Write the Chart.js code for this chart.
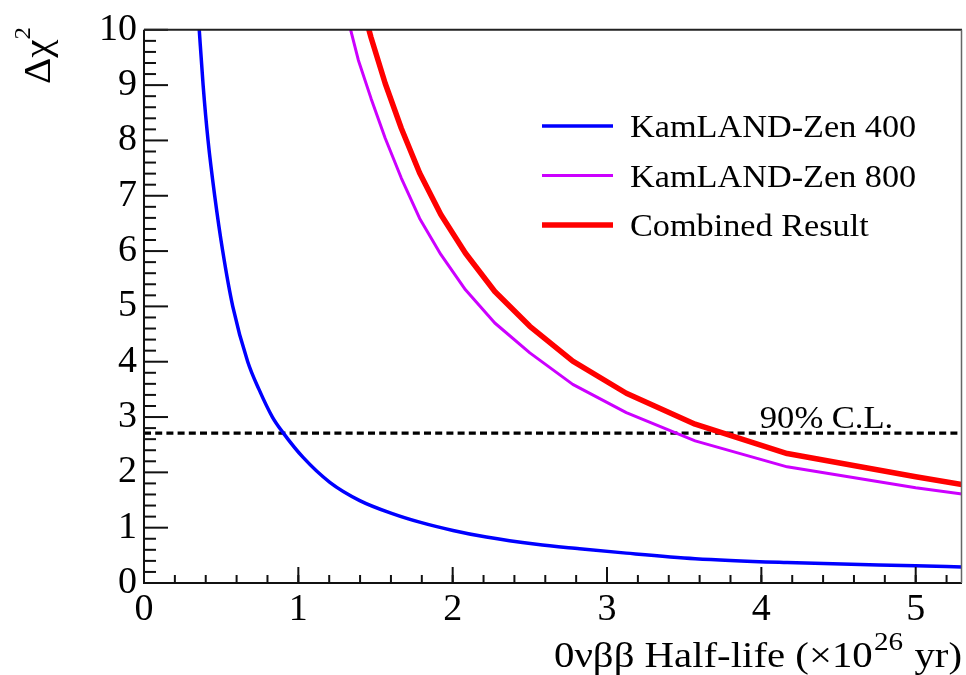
<!DOCTYPE html>
<html><head><meta charset="utf-8">
<script src="https://cdn.jsdelivr.net/npm/chart.js@4"></script>
<style>html,body{margin:0;padding:0;background:#fff;}canvas{display:block}</style>
</head><body>
<canvas id="c" width="966" height="675"></canvas>
<script>
// ---- data ----
const seriesLabels = ['KamLAND-Zen 400', 'KamLAND-Zen 800', 'Combined Result'];
const seriesColors = ['#0000ff', '#cc00ff', '#ff0000'];
const seriesWidths = [3.5, 3, 5.5];

const kz400X = [0.350, 0.358, 0.383, 0.415, 0.458, 0.510, 0.575, 0.672, 0.745, 0.832, 0.903, 1.031, 1.204, 1.398, 1.614, 1.786, 2.002, 2.218, 2.542, 2.822, 3.125, 3.571, 4.167, 5.0, 5.3];
const kz400Y = [10.33, 10.0, 9.0, 8.0, 7.0, 6.0, 5.0, 4.0, 3.5, 3.0, 2.71, 2.27, 1.82, 1.49, 1.25, 1.10, 0.95, 0.83, 0.70, 0.62, 0.54, 0.44, 0.37, 0.31, 0.29];

const kz800X = [1.316, 1.389, 1.471, 1.563, 1.667, 1.786, 1.923, 2.083, 2.273, 2.5, 2.778, 3.125, 3.571, 4.167, 5.0, 5.3];
const kz800Y = [10.25, 9.45, 8.76, 8.04, 7.32, 6.59, 5.94, 5.30, 4.70, 4.16, 3.59, 3.08, 2.57, 2.10, 1.72, 1.61];

const combX = [1.389, 1.471, 1.563, 1.667, 1.786, 1.923, 2.083, 2.273, 2.5, 2.778, 3.125, 3.571, 4.167, 5.0, 5.3];
const combY = [10.7, 9.86, 9.03, 8.22, 7.41, 6.66, 5.96, 5.27, 4.64, 4.01, 3.43, 2.87, 2.34, 1.92, 1.78];

const clLevel = 2.71;
const clLabel = '90% C.L.';
const clLabelX = 3.99;

const xRange = [0, 5.3];
const yRange = [0, 10];
const xTickLabels = [0, 1, 2, 3, 4, 5];
const yTickLabels = [0, 1, 2, 3, 4, 5, 6, 7, 8, 9, 10];
const minorDivisions = 5;

const xTitleMain = '0\u03bd\u03b2\u03b2 Half-life (\u00d710';
const xTitleSup = '26';
const xTitleEnd = ' yr)';
const yTitleMain = '\u0394\u03c7';
const yTitleSup = '2';

// ---- chart ----
const SERIF = "'Liberation Serif', 'Times New Roman', serif";
const pts = (xs, ys) => xs.map((x, i) => ({x: x, y: ys[i]}));

const mainSets = [[kz400X, kz400Y], [kz800X, kz800Y], [combX, combY]].map((s, i) => ({
  label: seriesLabels[i],
  data: pts(s[0], s[1]),
  borderColor: seriesColors[i],
  backgroundColor: seriesColors[i],
  borderWidth: seriesWidths[i],
  pointRadius: 0,
  tension: 0,
  cubicInterpolationMode: i === 0 ? 'monotone' : 'default',
  borderJoinStyle: 'round',
  fill: false,
  clip: 0
}));
mainSets.push({
  label: clLabel,
  data: [{x: xRange[0], y: clLevel}, {x: xRange[1], y: clLevel}],
  borderColor: '#000',
  borderWidth: 3.2,
  borderDash: [7, 4.2],
  pointRadius: 0,
  fill: false,
  clip: 0
});

function stretchText(ctx, text, x, y, sx) {
  ctx.save();
  ctx.translate(x, y);
  ctx.scale(sx, 1);
  ctx.fillText(text, 0, 0);
  ctx.restore();
}

const rootStyle = {
  id: 'rootStyle',
  afterDatasetsDraw(chart) {
    const ctx = chart.ctx, a = chart.chartArea;
    const xs = chart.scales.x, ys = chart.scales.y;
    ctx.save();
    ctx.strokeStyle = '#111';
    ctx.lineWidth = 2;
    // y ticks (inward)
    for (let i = 0; i < yTickLabels.length; i++) {
      const v = yTickLabels[i];
      const p = ys.getPixelForValue(v);
      ctx.beginPath(); ctx.moveTo(a.left, p); ctx.lineTo(a.left + 24, p); ctx.stroke();
      if (i < yTickLabels.length - 1) {
        const step = (yTickLabels[i + 1] - v) / minorDivisions;
        for (let k = 1; k < minorDivisions; k++) {
          const q = ys.getPixelForValue(v + k * step);
          ctx.beginPath(); ctx.moveTo(a.left, q); ctx.lineTo(a.left + 12, q); ctx.stroke();
        }
      }
    }
    // x ticks (inward)
    const xStep = (xTickLabels[1] - xTickLabels[0]) / minorDivisions;
    for (let i = 0; i < xTickLabels.length; i++) {
      const p = xs.getPixelForValue(xTickLabels[i]);
      ctx.beginPath(); ctx.moveTo(p, a.bottom); ctx.lineTo(p, a.bottom - 16); ctx.stroke();
    }
    for (let v = xRange[0] + xStep; v < xRange[1] - 1e-9; v += xStep) {
      const p = xs.getPixelForValue(v);
      ctx.beginPath(); ctx.moveTo(p, a.bottom); ctx.lineTo(p, a.bottom - 8); ctx.stroke();
    }
    // frame
    ctx.lineWidth = 2;
    ctx.strokeStyle = '#111';
    ctx.beginPath();
    ctx.moveTo(a.left, a.top); ctx.lineTo(a.left, a.bottom); ctx.lineTo(a.right, a.bottom);
    ctx.stroke();
    ctx.strokeStyle = '#222';
    ctx.beginPath();
    ctx.moveTo(a.left, a.top); ctx.lineTo(a.right, a.top);
    ctx.stroke();
    ctx.lineWidth = 1.5;
    ctx.strokeStyle = '#666';
    ctx.beginPath();
    ctx.moveTo(a.right - 0.5, a.top); ctx.lineTo(a.right - 0.5, a.bottom);
    ctx.stroke();
    ctx.restore();
  },
  afterDraw(chart) {
    const ctx = chart.ctx, a = chart.chartArea;
    const xs = chart.scales.x, ys = chart.scales.y;
    ctx.save();
    ctx.fillStyle = '#000';
    ctx.textAlign = 'left';
    ctx.textBaseline = 'alphabetic';
    // legend
    const ds = chart.data.datasets;
    for (let i = 0; i < 3; i++) {
      const y = 126 + 49.5 * i;
      ctx.strokeStyle = ds[i].borderColor;
      ctx.lineWidth = ds[i].borderWidth;
      ctx.beginPath(); ctx.moveTo(542, y); ctx.lineTo(613, y); ctx.stroke();
      ctx.font = '32px ' + SERIF;
      stretchText(ctx, ds[i].label, 630, y + 11, 1.07);
    }
    // CL label
    ctx.font = '32px ' + SERIF;
    stretchText(ctx, clLabel, xs.getPixelForValue(clLabelX), ys.getPixelForValue(clLevel) - 5, 1.08);
    // x title, right-aligned to the frame edge
    const big = '35px ' + SERIF, small = '25px ' + SERIF;
    ctx.font = big;
    const w1 = ctx.measureText(xTitleMain).width;
    const w3 = ctx.measureText(xTitleEnd).width;
    ctx.font = small;
    const w2 = ctx.measureText(xTitleSup).width;
    const total = w1 + w2 + w3 + 2;
    const target = 962 - 554;
    const sx = target / total;
    ctx.save();
    ctx.translate(554, 667);
    ctx.scale(sx, 1);
    ctx.font = big;
    ctx.fillText(xTitleMain, 0, 0);
    ctx.font = small;
    ctx.fillText(xTitleSup, w1 + 1, -17);
    ctx.font = big;
    ctx.fillText(xTitleEnd, w1 + w2 + 2, 0);
    ctx.restore();
    // y title (rotated, right-aligned at the top of the frame)
    ctx.translate(50, 27);
    ctx.rotate(-Math.PI / 2);
    ctx.scale(1.08, 1);
    ctx.font = '23px ' + SERIF;
    const s2 = ctx.measureText(yTitleSup).width;
    ctx.textAlign = 'right';
    ctx.fillText(yTitleSup, 0, -20);
    ctx.font = '38px ' + SERIF;
    ctx.fillText(yTitleMain, -s2, 0);
    ctx.restore();
  }
};

new Chart(document.getElementById('c'), {
  type: 'line',
  data: { datasets: mainSets },
  options: {
    responsive: false,
    animation: false,
    devicePixelRatio: 1,
    layout: { padding: { top: 28, right: 4, left: 0, bottom: 0 } },
    plugins: { legend: { display: false }, tooltip: { enabled: false } },
    scales: {
      x: {
        type: 'linear',
        min: xRange[0], max: xRange[1],
        afterBuildTicks: s => { s.ticks = xTickLabels.map(v => ({value: v})); },
        afterFit: s => { s.height = 92; },
        grid: { display: false, drawTicks: false },
        border: { display: false },
        ticks: { padding: 4, color: '#000', font: { family: SERIF, size: 38 }, maxRotation: 0, autoSkip: false }
      },
      y: {
        type: 'linear',
        min: yRange[0], max: yRange[1],
        afterBuildTicks: s => { s.ticks = yTickLabels.map(v => ({value: v})); },
        afterFit: s => { s.width = 144; },
        grid: { display: false, drawTicks: false },
        border: { display: false },
        ticks: { padding: 7, color: '#000', font: { family: SERIF, size: 38 }, autoSkip: false }
      }
    }
  },
  plugins: [rootStyle]
});
</script>
</body></html>
